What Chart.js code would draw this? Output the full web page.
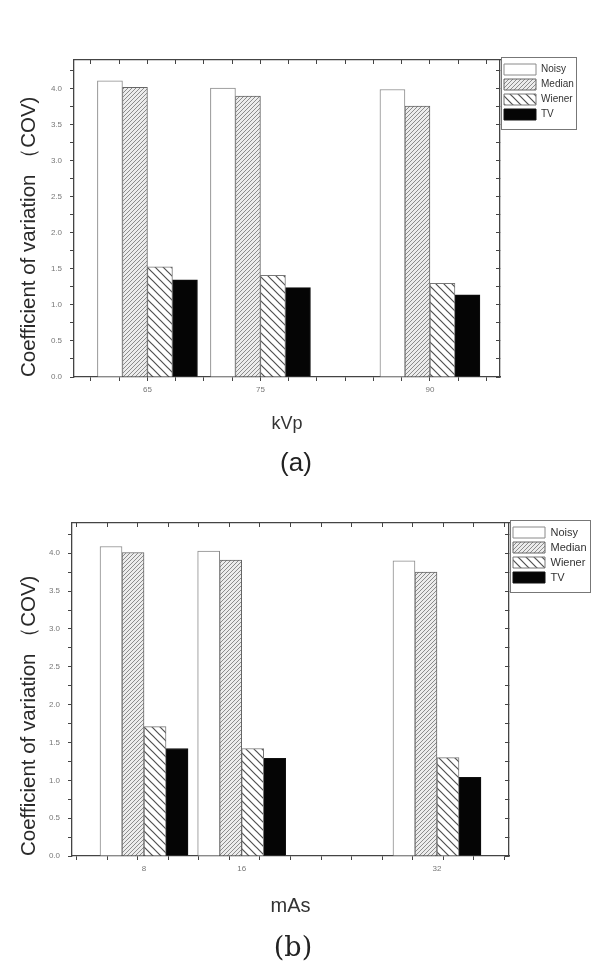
<!DOCTYPE html>
<html>
<head>
<meta charset="utf-8">
<script src="https://cdn.jsdelivr.net/npm/chart.js@4.4.1/dist/chart.umd.min.js"></script>
<style>
    body {
        margin: 0;
        width: 611px;
        height: 974px;
        background: #fff;
        position: relative;
        overflow: hidden;
        font-family: "Liberation Sans", Arial, sans-serif;
    }
    canvas { position: absolute; left: 0; }
    #chartA { top: 0; }
    #chartB { top: 487px; }
    .tag {
        position: absolute;
        width: 200px;
        height: 30px;
        line-height: 30px;
        text-align: center;
        color: #222;
    }
    #tagA { left: 196px; top: 447px; font-size: 26px; font-family: "Liberation Sans", sans-serif; }
    #tagB { left: 193px; top: 932px; font-size: 27px; font-family: "DejaVu Serif", serif; }
</style>
</head>
<body>
<canvas id="chartA" width="611" height="487"></canvas>
<canvas id="chartB" width="611" height="487"></canvas>
<div class="tag" id="tagA">(a)</div>
<div class="tag" id="tagB">(b)</div>

<script>
// -----------------------------
// Data
// -----------------------------
const seriesNames = ["Noisy", "Median", "Wiener", "TV"];

const kvpValues = [65, 75, 90];
const kvpTickLabels = ["65", "75", "90"];
const kvpNoisy = [4.11, 4.01, 3.99];
const kvpMedian = [4.02, 3.90, 3.76];
const kvpWiener = [1.53, 1.41, 1.30];
const kvpTV = [1.35, 1.24, 1.14];

const masValues = [8, 16, 32];
const masTickLabels = ["8", "16", "32"];
const masNoisy = [4.09, 4.03, 3.90];
const masMedian = [4.01, 3.91, 3.75];
const masWiener = [1.71, 1.42, 1.30];
const masTV = [1.42, 1.29, 1.04];

const yTickValues = [0, 0.5, 1, 1.5, 2, 2.5, 3, 3.5, 4];
const yTickLabels = ["0.0", "0.5", "1.0", "1.5", "2.0", "2.5", "3.0", "3.5", "4.0"];

const yTitle = "Coefficient of variation （COV)";

// -----------------------------
// Fills: plain, hatched, solid
// -----------------------------
function hatch(size, bg, color, width, dir) {
    const c = document.createElement("canvas");
    c.width = c.height = size;
    const g = c.getContext("2d");
    g.fillStyle = bg;
    g.fillRect(0, 0, size, size);
    g.strokeStyle = color;
    g.lineWidth = width;
    g.beginPath();
    if (dir === "/") {
        g.moveTo(-1, 1); g.lineTo(1, -1);
        g.moveTo(0, size); g.lineTo(size, 0);
        g.moveTo(size - 1, size + 1); g.lineTo(size + 1, size - 1);
    } else {
        g.moveTo(-1, size - 1); g.lineTo(1, size + 1);
        g.moveTo(0, 0); g.lineTo(size, size);
        g.moveTo(size - 1, -1); g.lineTo(size + 1, 1);
    }
    g.stroke();
    return g.createPattern(c, "repeat");
}

const fills = [
    "#ffffff",
    hatch(4, "#ececec", "#8c8c8c", 1, "/"),
    hatch(8, "#ffffff", "#505050", 1.2, "\\"),
    "#050505"
];
const edges = ["#8a8a8a", "#666666", "#777777", "#111111"];

// box drawn round the legend entries
const legendFrame = {
    id: "legendFrame",
    afterDraw(chart) {
        const lg = chart.legend;
        if (!lg || !lg.legendHitBoxes || !lg.legendHitBoxes.length) return;
        const hb = lg.legendHitBoxes;
        const first = hb[0];
        const last = hb[hb.length - 1];
        const ctx = chart.ctx;
        ctx.save();
        ctx.strokeStyle = "#777";
        ctx.lineWidth = 1;
        const left = Math.round(first.left - 3) + 0.5;
        const top = Math.round(first.top - 7) + 0.5;
        const right = Math.round(lg.right) - 0.5;
        const bottom = Math.round(last.top + last.height + 9) + 0.5;
        ctx.strokeRect(left, top, right - left, bottom - top);
        ctx.restore();
    }
};

function makeChart(canvasId, cfg) {
    const datasets = seriesNames.map((name, i) => ({
        label: name,
        data: cfg.x.map((x, j) => ({ x: x, y: cfg.series[i][j] })),
        backgroundColor: fills[i],
        borderColor: edges[i],
        borderWidth: 1,
        barThickness: cfg.barWidth
    }));

    const axisColor = "#444";

    const xTicks = scale => {
        const vals = [];
        for (let v = cfg.tickStart; v <= cfg.max; v += 2.5) vals.push(v);
        cfg.x.forEach(v => { if (!vals.includes(v)) vals.push(v); });
        scale.ticks = vals.sort((a, b) => a - b).map(value => ({ value }));
    };

    const yTicks = scale => {
        const vals = [];
        for (let v = 0; v <= 4.4; v += 0.25) vals.push(v);
        scale.ticks = vals.map(value => ({ value }));
    };

    const tickShade = c => (c.tick && (c.tick.value - cfg.tickStart) % 2.5 !== 0)
        ? "rgba(0,0,0,0)" : axisColor;

    return new Chart(document.getElementById(canvasId), {
        type: "bar",
        data: { datasets },
        options: {
            responsive: false,
            animation: false,
            layout: { padding: cfg.padding },
            scales: {
                x: {
                    type: "linear",
                    position: "bottom",
                    min: cfg.min,
                    max: cfg.max,
                    offset: false,
                    afterBuildTicks: xTicks,
                    afterFit: s => { s.height = cfg.xAxisHeight; },
                    grid: {
                        offset: false,
                        drawOnChartArea: false,
                        tickLength: 4,
                        tickColor: tickShade
                    },
                    border: { color: axisColor, width: 1.3 },
                    ticks: {
                        autoSkip: false,
                        maxRotation: 0,
                        padding: 4,
                        color: "#777",
                        font: { size: 8, family: "Liberation Sans" },
                        callback: v => {
                            const i = cfg.x.indexOf(v);
                            return i >= 0 ? cfg.labels[i] : "";
                        }
                    },
                    title: {
                        display: true,
                        text: cfg.xTitle,
                        color: "#333",
                        font: { size: cfg.xTitleSize, family: "Liberation Sans" },
                        padding: { top: 0, bottom: cfg.xTitlePad }
                    }
                },
                x2: {
                    type: "linear",
                    position: "top",
                    min: cfg.min,
                    max: cfg.max,
                    offset: false,
                    afterBuildTicks: xTicks,
                    afterFit: s => { s.height = 0; },
                    grid: {
                        offset: false,
                        drawOnChartArea: false,
                        tickLength: -4,
                        tickColor: tickShade
                    },
                    border: { color: axisColor, width: 1.3 },
                    ticks: { display: false }
                },
                y: {
                    type: "linear",
                    min: 0,
                    max: 4.4,
                    afterBuildTicks: yTicks,
                    afterFit: s => { s.width = cfg.yAxisWidth; },
                    grid: { drawOnChartArea: false, tickLength: 4, tickColor: axisColor },
                    border: { color: axisColor, width: 1.3 },
                    ticks: {
                        autoSkip: false,
                        padding: 8,
                        color: "#777",
                        font: { size: 8, family: "Liberation Sans" },
                        callback: v => {
                            const i = yTickValues.indexOf(v);
                            return i >= 0 ? yTickLabels[i] : "";
                        }
                    },
                    title: {
                        display: true,
                        text: yTitle,
                        align: "start",
                        color: "#2a2a2a",
                        font: { size: 20.5, family: "Liberation Sans" },
                        padding: { top: cfg.yTitlePad, bottom: 0 }
                    }
                },
                y2: {
                    type: "linear",
                    position: "right",
                    min: 0,
                    max: 4.4,
                    afterBuildTicks: yTicks,
                    afterFit: s => { s.width = 0; },
                    grid: { drawOnChartArea: false, tickLength: -4, tickColor: axisColor },
                    border: { color: axisColor, width: 1.3 },
                    ticks: { display: false }
                }
            },
            plugins: {
                legend: {
                    position: "right",
                    align: "start",
                    fullSize: false,
                    maxWidth: cfg.legendWidth,
                    labels: {
                        boxWidth: 32,
                        boxHeight: 11,
                        padding: 4,
                        color: "#333",
                        font: { size: cfg.legendFont, family: "Liberation Sans" }
                    }
                },
                tooltip: { enabled: false }
            }
        },
        plugins: [legendFrame]
    });
}

// -----------------------------
// Panel (a): kVp
// -----------------------------
makeChart("chartA", {
    x: kvpValues,
    labels: kvpTickLabels,
    series: [kvpNoisy, kvpMedian, kvpWiener, kvpTV],
    min: 58.5,
    max: 96.2,
    tickStart: 60,
    barWidth: 25,
    padding: { top: 60, left: 0, right: 34, bottom: 50 },
    xAxisHeight: 60,
    yAxisWidth: 74,
    xTitle: "kVp",
    xTitleSize: 18,
    xTitlePad: 2,
    yTitlePad: 17,
    legendWidth: 77,
    legendFont: 10
});

// -----------------------------
// Panel (b): mAs
// -----------------------------
makeChart("chartB", {
    x: masValues,
    labels: masTickLabels,
    series: [masNoisy, masMedian, masWiener, masTV],
    min: 2.1,
    max: 37.9,
    tickStart: 2.5,
    barWidth: 22,
    padding: { top: 36, left: 0, right: 20, bottom: 54 },
    xAxisHeight: 64,
    yAxisWidth: 72,
    xTitle: "mAs",
    xTitleSize: 20,
    xTitlePad: 2,
    yTitlePad: 17,
    legendWidth: 82,
    legendFont: 11
});
</script>
</body>
</html>
